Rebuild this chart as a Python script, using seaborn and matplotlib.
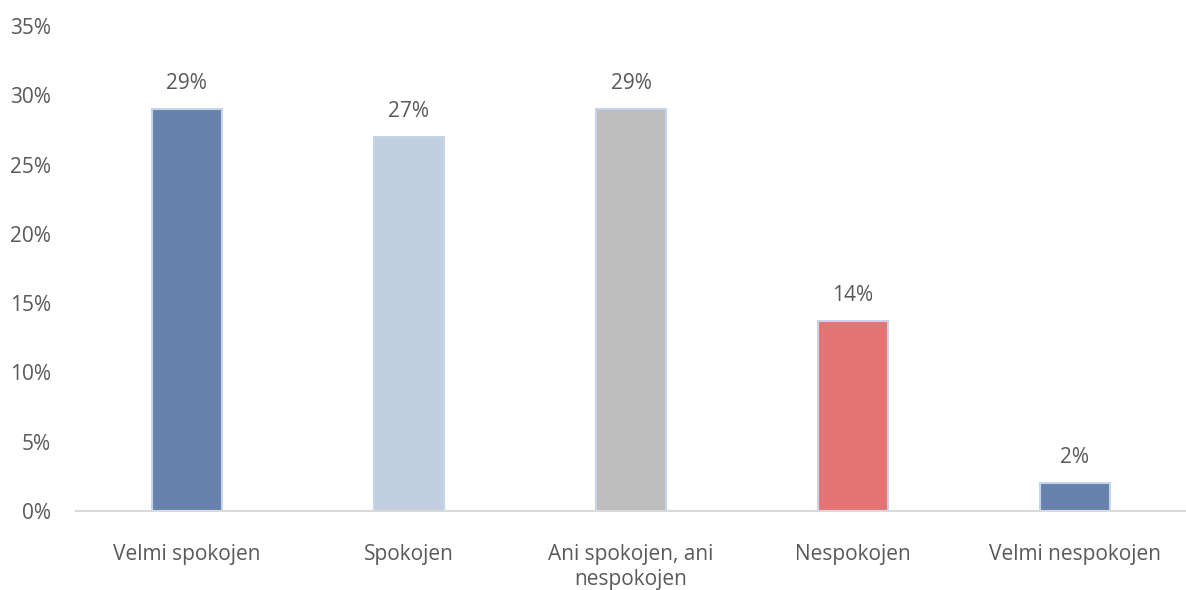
import matplotlib
matplotlib.use("Agg")
import matplotlib.pyplot as plt
import seaborn as sns
import pandas as pd

categories = ["Velmi spokojen", "Spokojen", "Ani spokojen, ani\nnespokojen", "Nespokojen", "Velmi nespokojen"]
values = [29, 27, 29, 13.7, 2]
labels = ["29%", "27%", "29%", "14%", "2%"]
colors = ["#6783ad", "#c1cfe0", "#bdbdbd", "#e47473", "#6783ad"]
yticks = [0, 5, 10, 15, 20, 25, 30, 35]

sns.set_theme(style="white")
plt.rcParams['font.family'] = ['Open Sans', 'DejaVu Sans']
text_color = "#595959"
fs = 15

df = pd.DataFrame({"cat": categories, "val": values})
fig = plt.figure(figsize=(11.86, 5.90), dpi=100)
ax = fig.add_axes([0.064, 0.134, 0.936, 0.822])
sns.barplot(data=df, x="cat", y="val", hue="cat", palette=colors, legend=False,
            width=0.315, edgecolor="#c6d4e8", linewidth=1.5, ax=ax, saturation=1)

for i, (v, lab) in enumerate(zip(values, labels)):
    ax.text(i, v + 1.1, lab, ha="center", va="bottom", fontsize=fs, color=text_color)

ax.set_xlim(-0.5, 4.5)
ax.set_ylim(0, 35)
ax.set_yticks(yticks)
ax.set_yticklabels([f"{t}%" for t in yticks], fontsize=fs, color=text_color)
ax.tick_params(axis="x", labelsize=fs, colors=text_color, pad=24, length=0)
ax.tick_params(axis="y", pad=18, length=0)
ax.set_xlabel("")
ax.set_ylabel("")
for s in ["top", "right", "left"]:
    ax.spines[s].set_visible(False)
ax.spines["bottom"].set_color("#d9d9d9")
ax.spines["bottom"].set_linewidth(1.5)
for lbl in ax.get_xticklabels():
    lbl.set_linespacing(1.25)

fig.savefig("out.png", dpi=100)
